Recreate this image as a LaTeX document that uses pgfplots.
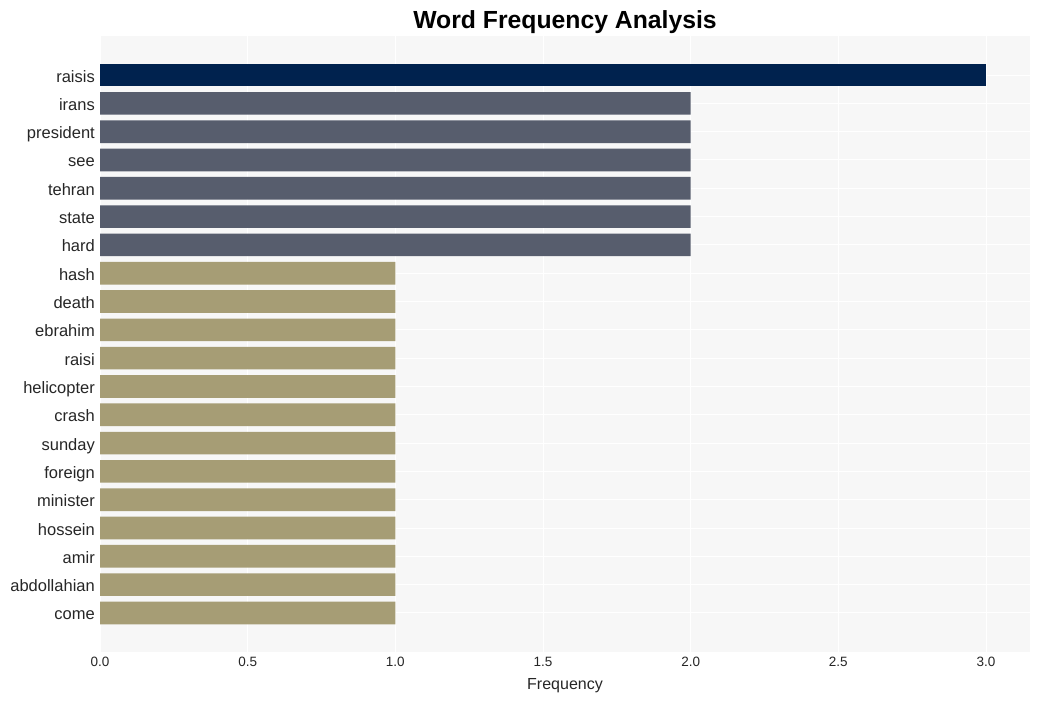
\documentclass[border=0pt]{standalone}
\usepackage{fontspec}
\setmainfont{Liberation Sans}
\usepackage{pgfplots}
\pgfplotsset{compat=1.18}
\definecolor{bgc}{HTML}{F7F7F7}
\definecolor{cthree}{HTML}{00224E}
\definecolor{ctwo}{HTML}{575D6D}
\definecolor{cone}{HTML}{A69D75}
\definecolor{txt}{HTML}{262626}
\begin{document}
\begin{tikzpicture}[x=1pt,y=1pt]
\path[use as bounding box] (0,0) rectangle (1039,-701);
\begin{axis}[
  at={(100pt,-652pt)}, anchor=south west,
  scale only axis, width=930pt, height=616pt,
  xbar, bar width=0.8, bar shift=0pt,
  xmin=0, xmax=3.149, ymin=-1.38, ymax=20.38,
  ytick={0,...,19},
  yticklabels={come,abdollahian,amir,hossein,minister,foreign,sunday,crash,helicopter,raisi,ebrahim,death,hash,hard,state,tehran,see,president,irans,raisis},
  xtick={0,0.5,1,1.5,2,2.5,3},
  xticklabels={0.0,0.5,1.0,1.5,2.0,2.5,3.0},
  major tick length=0pt,
  axis line style={draw=none},
  axis background/.style={fill=bgc},
  grid=major,
  major grid style={white, line width=1pt},
  yticklabel style={font=\fontsize{16.5}{18}\selectfont, text=txt, inner sep=0pt, text height=14.5pt, text depth=0.5pt, anchor=east, xshift=-5pt},
  xticklabel style={font=\fontsize{13.5}{16}\selectfont, text=txt, inner sep=0pt, anchor=north, yshift=-5pt},
  xlabel={Frequency},
  xlabel style={font=\fontsize{16}{18}\selectfont, text=txt, at={(axis description cs:0.5,0)}, anchor=base, yshift=-37pt},
]
\addplot[fill=cthree, draw=none] coordinates {(3,19)};
\addplot[fill=ctwo, draw=none] coordinates {(2,18) (2,17) (2,16) (2,15) (2,14) (2,13)};
\addplot[fill=cone, draw=none] coordinates {(1,12) (1,11) (1,10) (1,9) (1,8) (1,7) (1,6) (1,5) (1,4) (1,3) (1,2) (1,1) (1,0)};
\end{axis}
\node[font=\fontsize{24.75}{28}\selectfont\bfseries, text=black, anchor=base] at (565,-29) {Word Frequency Analysis};
\end{tikzpicture}
\end{document}
